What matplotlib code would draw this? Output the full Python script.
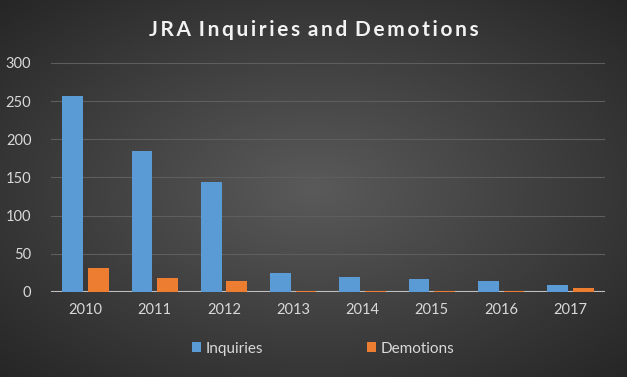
import numpy as np
import matplotlib
matplotlib.use("Agg")
import matplotlib.pyplot as plt
from matplotlib.colors import LinearSegmentedColormap

years = ["2010", "2011", "2012", "2013", "2014", "2015", "2016", "2017"]
inquiries = [257, 185, 144, 25, 20, 17, 14, 9]
demotions = [31, 18, 14, 1, 1, 1, 1, 5]
title = "JRA Inquiries and Demotions"

plt.rcParams['font.family'] = ['Lato', 'DejaVu Sans']

fig = plt.figure(figsize=(6.27, 3.77), dpi=100)

# radial gradient background
bg = fig.add_axes([0, 0, 1, 1], zorder=-10)
yy, xx = np.mgrid[-1:1:300j, -1:1:500j]
r = np.sqrt(xx ** 2 + yy ** 2) / np.sqrt(2)
cmap = LinearSegmentedColormap.from_list("bg", ["#5a5a5a", "#262626"])
bg.imshow(r, cmap=cmap, aspect="auto", extent=[0, 1, 0, 1], vmin=0, vmax=1)
bg.axis("off")

ax = fig.add_axes([0.081, 0.2255, 0.884, 0.6075])
ax.patch.set_alpha(0)

x = np.arange(len(years))
w = 0.30
ax.bar(x - 0.185, inquiries, w, color="#5b9bd5", label="Inquiries", zorder=3)
ax.bar(x + 0.185, demotions, w, color="#ed7d31", label="Demotions", zorder=3)

ax.set_xlim(-0.5, 7.5)
ax.set_ylim(0, 300)
ax.set_yticks(range(0, 301, 50))
ax.set_xticks(x)
ax.set_xticklabels(years)
ax.grid(axis="y", color="#5e5e5e", linewidth=0.8, zorder=0)
ax.axhline(0, color="#bfbfbf", linewidth=1.5, zorder=2)
for s in ax.spines.values():
    s.set_visible(False)
ax.tick_params(length=0, colors="#d9d9d9", labelsize=10.5)
ax.tick_params(axis="y", pad=14)
ax.tick_params(axis="x", pad=8)

# letter-spaced title
spaced = " \u2009".join("\u2009".join(word) for word in title.split())
fig.text(0.5, 0.92, spaced, ha="center", va="center", color="#f2f2f2",
         fontsize=15, fontweight="bold")

leg = fig.legend(loc="center", bbox_to_anchor=(0.515, 0.075), ncol=2, frameon=False,
                 fontsize=11, handlelength=0.6, handleheight=0.6, handletextpad=0.3,
                 columnspacing=6.8)
for t in leg.get_texts():
    t.set_color("#d9d9d9")

fig.savefig("out.png", dpi=100)
